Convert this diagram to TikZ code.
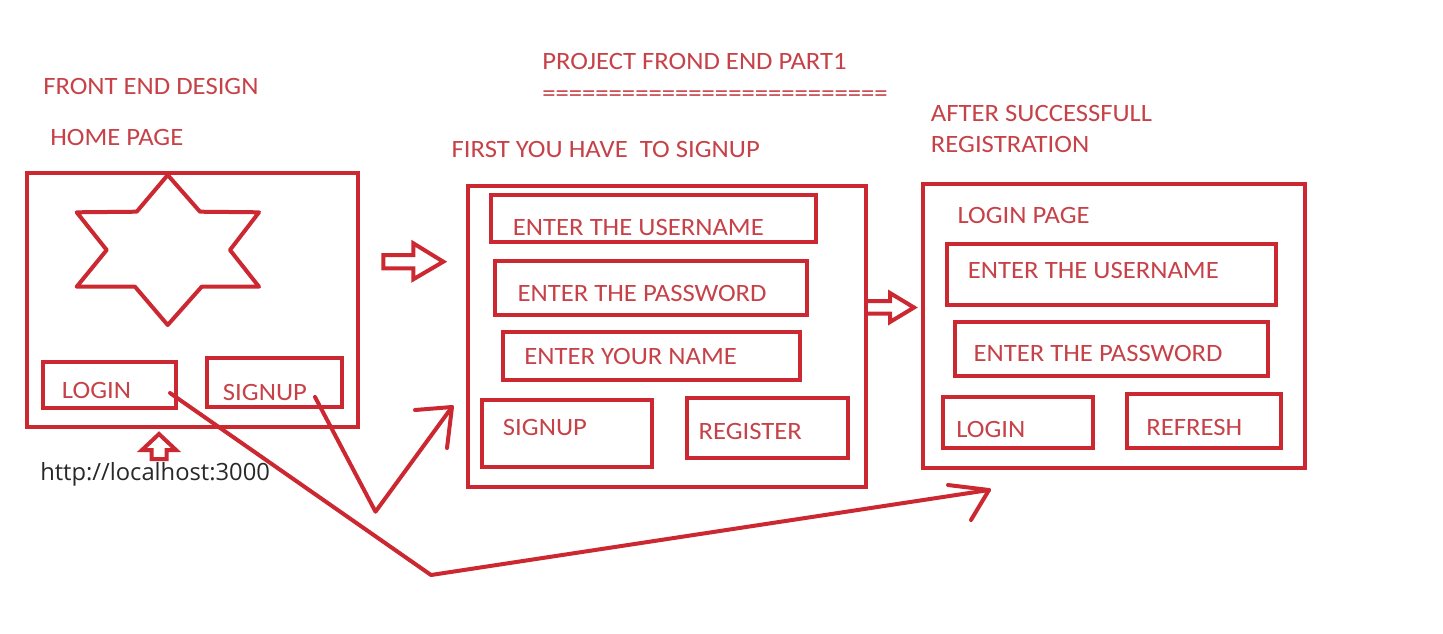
\documentclass[tikz,border=0pt]{standalone}
\usepackage{fontspec}
\setmainfont{Carlito}[FakeStretch=1.07]
\newfontfamily\urlfont{Open Sans}
\usetikzlibrary{fit}

\definecolor{ink}{RGB}{204,40,50}
\definecolor{labelred}{RGB}{198,66,72}
\definecolor{urlgray}{RGB}{40,40,40}

% a framed box given by its two corners, named #1
\newcommand\uibox[5]{%
  \coordinate (#1-a) at (#2,#3);
  \coordinate (#1-b) at (#4,#5);
  \node[frame, fit=(#1-a)(#1-b)] (#1) {};
}

\begin{document}
\begin{tikzpicture}[x=0.75pt, y=-0.75pt,
  frame/.style={draw=ink, line width=3.2pt, inner sep=0pt, outer sep=0pt},
  lbl/.style={text=labelred, font=\fontsize{18.7}{20}\selectfont, anchor=base west, inner sep=0pt},
  urltext/.style={text=urlgray, font=\urlfont\fontsize{17.8}{19}\selectfont, anchor=base west, inner sep=0pt},
  pen/.style={draw=ink, line width=3pt, line cap=round, line join=round},
  blockarrow/.style={draw=ink, line width=3pt, line join=miter},
]
\useasboundingbox (0,0) rectangle (1443,633);
\fill[white] (0,0) rectangle (1443,633);

% ---------- headings ----------
\node[lbl] (tDesign) at (43,94) {FRONT END DESIGN};
\node[lbl] (tHome) at (50,145.7) {HOME PAGE};
\node[lbl] (tProject) at (542,69.5) {PROJECT FROND END PART1};
\node[lbl] (tRule) at (542,101) {==========================};
\node[lbl] (tFirst) at (451.4,157.5) {FIRST YOU HAVE\ \ TO SIGNUP};
\node[lbl] (tAfter) at (930.7,121.7) {AFTER SUCCESSFULL};
\node[lbl] (tReg) at (930.7,152.7) {REGISTRATION};

% ---------- home page ----------
\uibox{home}{27}{173}{358}{427}
\draw[pen] (167.7,175) -- (200,211.7) -- (259,212.3) -- (230,250) -- (259,286.7)
  -- (201.7,286.7) -- (167.7,325) -- (135,286.7) -- (76.7,286.7) -- (106.7,250)
  -- (76.7,212.3) -- (136.7,211.7) -- cycle;
\uibox{hLogin}{43}{362}{176}{408}
\node[lbl] (hLoginT) at (61.7,398) {LOGIN};
\uibox{hSignup}{207}{358}{342}{407}
\node[lbl] (hSignupT) at (222.7,400) {SIGNUP};

% up arrow pointing at the home page
\draw[blockarrow] (159,434) -- (176,450) -- (166.5,450) -- (166.5,459)
  -- (151.5,459) -- (151.5,450) -- (142,450) -- cycle;
\node[urltext] (url) at (40,480) {http://localhost:3000};

% ---------- sign-up page ----------
\uibox{signup}{468}{186}{866}{487}
\uibox{sUser}{491}{195}{816}{242}
\node[lbl] (sUserT) at (512.7,235) {ENTER THE USERNAME};
\uibox{sPass}{495}{261}{807}{315}
\node[lbl] (sPassT) at (517.3,301.7) {ENTER THE PASSWORD};
\uibox{sName}{503}{332}{800}{380}
\node[lbl] (sNameT) at (524,364.3) {ENTER YOUR NAME};
\uibox{sSignup}{482}{400}{652}{467}
\node[lbl] (sSignupT) at (502.7,435.7) {SIGNUP};
\uibox{sRegister}{687}{398}{848}{458}
\node[lbl] (sRegisterT) at (698.3,439.3) {REGISTER};

% hollow arrows between pages
\draw[blockarrow] (383.3,255) -- (413.3,255) -- (413.3,243.3) -- (443.3,261.7)
  -- (413.3,279.3) -- (413.3,268.3) -- (383.3,268.3) -- cycle;
\draw[blockarrow] (866,301) -- (890,301) -- (890,293) -- (914,307.5)
  -- (890,322) -- (890,313.5) -- (866,313.5);

% ---------- login page ----------
\uibox{login}{923}{184}{1305}{468}
\node[lbl] (lTitle) at (957.3,223.3) {LOGIN PAGE};
\uibox{lUser}{947}{244}{1276}{305}
\node[lbl] (lUserT) at (967.7,278.3) {ENTER THE USERNAME};
\uibox{lPass}{955}{322}{1268}{376}
\node[lbl] (lPassT) at (973.3,361.7) {ENTER THE PASSWORD};
\uibox{lLogin}{943}{397}{1093}{448}
\node[lbl] (lLoginT) at (956,437.3) {LOGIN};
\uibox{lRefresh}{1127}{394}{1281}{448}
\node[lbl] (lRefreshT) at (1146,435) {REFRESH};

% ---------- freehand connectors ----------
\coordinate (fromLogin) at (170,393);
\coordinate (bendLogin) at (431,575);
\coordinate (toLogin) at (989,490);
\draw[pen] (fromLogin) -- (bendLogin) -- (toLogin);
\draw[pen] (948,485) -- (toLogin) -- (971,520);

\coordinate (fromSignup) at (315,397);
\coordinate (bendSignup) at (375.5,511.7);
\coordinate (toSignup) at (452,407);
\draw[pen] (fromSignup) -- (bendSignup) -- (toSignup);
\draw[pen] (415,410) -- (toSignup) -- (447,448);
\end{tikzpicture}
\end{document}
